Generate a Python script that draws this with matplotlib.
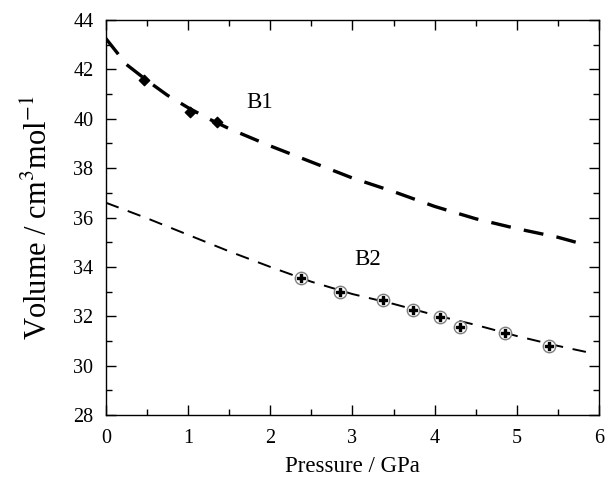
import numpy as np
import matplotlib
matplotlib.use('Agg')
import matplotlib.pyplot as plt

plt.rcParams['font.family'] = ['Liberation Serif', 'DejaVu Serif']
plt.rcParams['mathtext.fontset'] = 'stix'

# fitted EOS curves
p_fit = [0, 0.25, 0.5, 0.75, 1.0, 1.25, 1.5, 2.0, 2.5, 3.0, 3.5, 4.0, 4.5, 5.0, 5.5, 5.85]
v_b1 = [43.25, 42.2, 41.55, 40.95, 40.45, 40.0, 39.6, 38.9, 38.25, 37.6, 37.05, 36.45, 35.95, 35.55, 35.2, 34.88]
p_fit2 = [0, 0.5, 1.0, 1.5, 2.0, 2.5, 3.0, 3.5, 4.0, 4.5, 5.0, 5.5, 5.85]
v_b2 = [36.6, 35.97, 35.3, 34.63, 34.0, 33.4, 32.9, 32.5, 32.05, 31.65, 31.2, 30.8, 30.55]

# measured points
p_b1 = [0.47, 1.02, 1.35]
vol_b1 = [41.57, 40.29, 39.86]
p_b2 = [2.37, 2.855, 3.37, 3.74, 4.07, 4.31, 4.86, 5.39]
vol_b2 = [33.55, 33.0, 32.65, 32.25, 31.99, 31.55, 31.33, 30.8]

fig = plt.figure(figsize=(6.05, 4.79), dpi=100)
ax = fig.add_axes([0.175, 0.1336, 0.815, 0.8246])

ax.plot(p_fit, v_b1, color='black', lw=2.4, dashes=(6, 4))
ax.plot(p_fit2, v_b2, color='black', lw=1.4, dashes=(7, 5))

ax.scatter(p_b1, vol_b1, marker='D', s=28, color='black', zorder=3)
ax.scatter(p_b2, vol_b2, marker='o', s=80, facecolor='white', edgecolor='gray', lw=1, zorder=3)
ax.scatter(p_b2, vol_b2, marker='P', s=40, color='black', zorder=4)

ax.text(1.87, 40.64, 'B1', fontsize=16.5, ha='center', va='center')
ax.text(3.19, 34.28, 'B2', fontsize=16.5, ha='center', va='center')

ax.set_xlim(0, 6)
ax.set_ylim(28, 44)
ax.set_xticks(np.arange(0, 7, 1))
ax.set_yticks(np.arange(28, 45, 2))
ax.set_xticks(np.arange(0.5, 6, 1), minor=True)
ax.set_yticks(np.arange(29, 44, 2), minor=True)
ax.tick_params(which='both', direction='in', top=True, right=True, labelsize=14.5, width=1)
ax.tick_params(which='major', length=7)
ax.tick_params(which='minor', length=4)
ax.tick_params(axis='x', pad=10)
ax.tick_params(axis='y', pad=9)
for s in ax.spines.values():
    s.set_linewidth(1)

ax.set_xlabel('Pressure / GPa', fontsize=16.5, labelpad=6)
ax.set_ylabel('Volume / cm$^3$mol$^{-1}$', fontsize=22, labelpad=14)

fig.savefig('out.png', dpi=100)
